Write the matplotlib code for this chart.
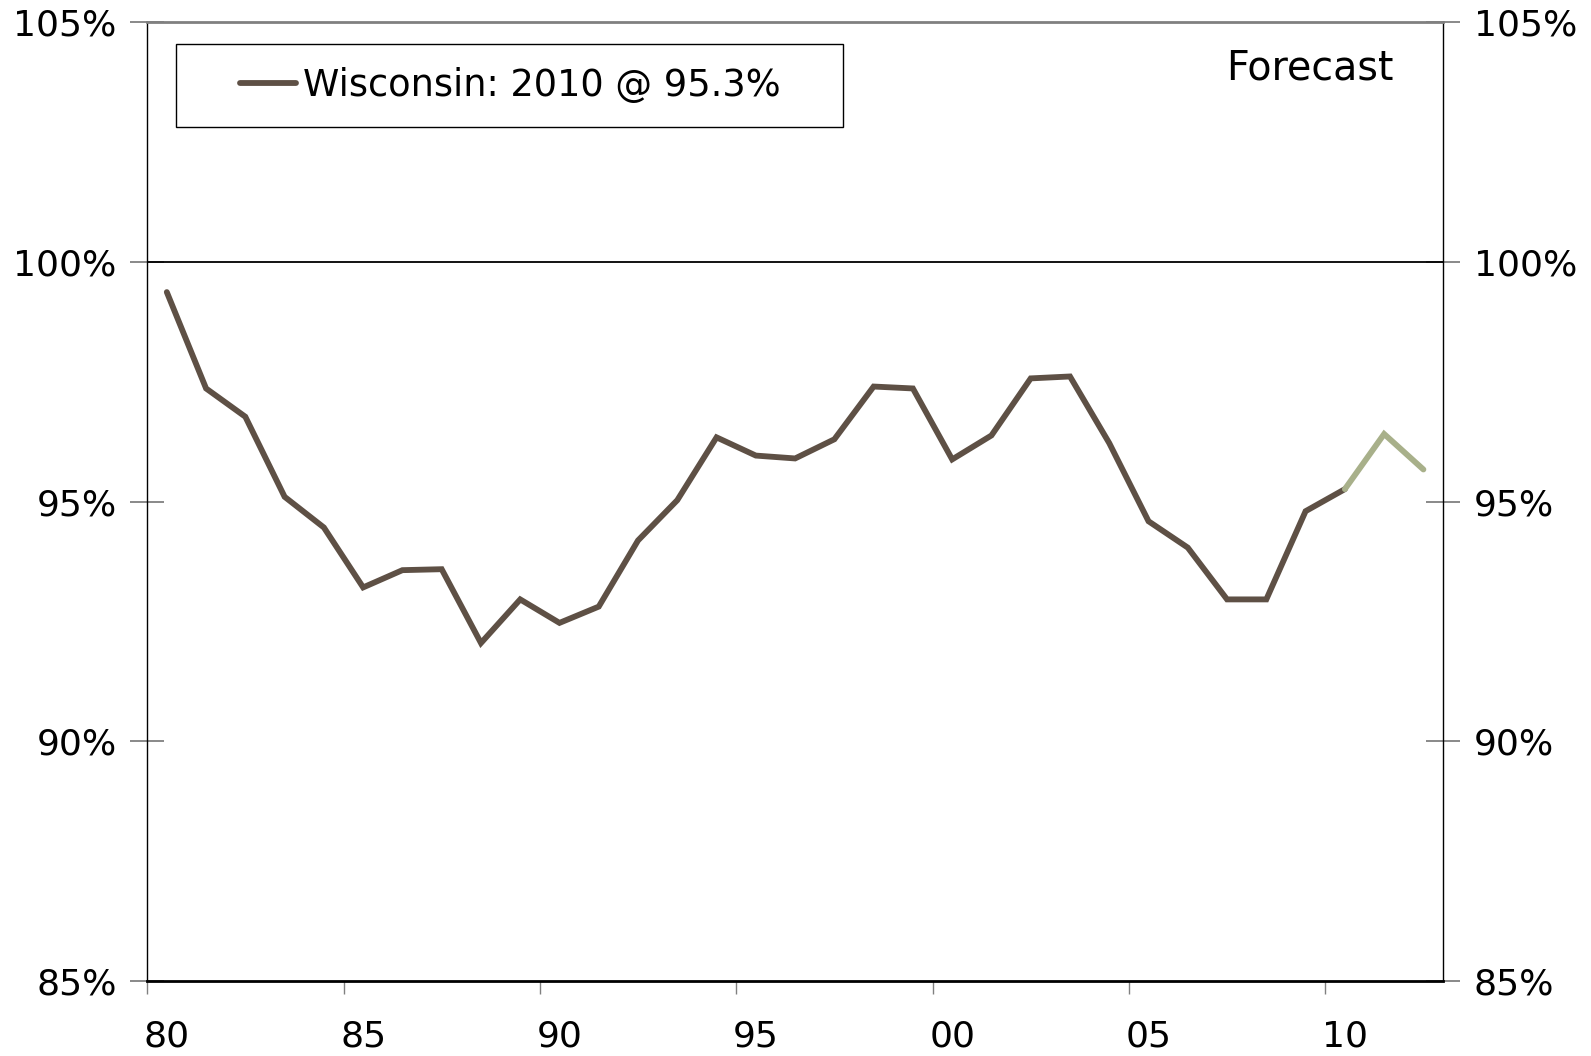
import numpy as np
import matplotlib
matplotlib.use("Agg")
import matplotlib.pyplot as plt
from matplotlib.patches import Rectangle

# ── Data ──────────────────────────────────────────────────────────────────
years = list(range(1980, 2011))
actual = [99.37, 97.36, 96.77, 95.10, 94.46, 93.21, 93.57, 93.59, 92.05, 92.96,
          92.47, 92.81, 94.19, 95.03, 96.34, 95.96, 95.90, 96.30, 97.40, 97.36,
          95.88, 96.38, 97.57, 97.61, 96.22, 94.59, 94.04, 92.96, 92.96, 94.80,
          95.26]
fc_years = [2010, 2011, 2012]
forecast = [95.26, 96.41, 95.67]

x_labels = ["80", "85", "90", "95", "00", "05", "10"]
label_years = [1980, 1985, 1990, 1995, 2000, 2005, 2010]
y_ticks = [85, 90, 95, 100, 105]

BROWN = "#5e5045"
GREEN = "#a8b08a"
FS = 26

plt.rcParams['font.family'] = ['DejaVu Sans']

fig = plt.figure(figsize=(15.91, 10.56), dpi=100)
ax = fig.add_axes([0.0925, 0.071, 0.8145, 0.908])

ax.plot(years, actual, color=BROWN, lw=4.2, solid_capstyle='round',
        solid_joinstyle='miter', label="Wisconsin: 2010 @ 95.3%", zorder=3)
ax.plot(fc_years, forecast, color=GREEN, lw=4.2, solid_capstyle='round',
        solid_joinstyle='miter', zorder=3)

ax.axhline(100, color='black', lw=1.3, zorder=2)

ax.set_xlim(1979.5, 2012.5)
ax.set_ylim(85, 105)

# category-style x axis: ticks between categories, labels on categories
ax.set_xticks(np.arange(1979.5, 2012, 5))
ax.set_xticklabels([])
ax.set_xticks(label_years, minor=True)
ax.set_xticklabels(x_labels, minor=True)
ax.tick_params(axis='x', which='major', direction='out', length=9,
               width=1, color='#808080')
ax.tick_params(axis='x', which='minor', length=0, pad=28, labelsize=FS)

ax.set_yticks(y_ticks)
ax.set_yticklabels([f"{v}%" for v in y_ticks])
ax.tick_params(axis='y', which='both', direction='inout', length=24,
               width=1.3, color='#808080', labelsize=FS, pad=10,
               left=True, right=True, labelleft=True, labelright=True)

for s in ['left', 'right']:
    ax.spines[s].set_color('black')
    ax.spines[s].set_linewidth(1)
ax.spines['top'].set_color('#808080')
ax.spines['top'].set_linewidth(2)
ax.spines['bottom'].set_color('black')
ax.spines['bottom'].set_linewidth(2)

# legend box
ax.add_patch(Rectangle((0.0226, 0.891), 0.514, 0.0865, transform=ax.transAxes,
                       fill=False, edgecolor='black', lw=1, zorder=4))
ax.legend(loc='center left', bbox_to_anchor=(0.072, 0.934), frameon=False,
          fontsize=26.5, handlelength=1.5, handletextpad=0.2, borderpad=0,
          borderaxespad=0)

ax.text(0.962, 0.952, "Forecast", transform=ax.transAxes, ha='right',
        va='center', fontsize=28.5)

fig.savefig("out.png", dpi=100)
